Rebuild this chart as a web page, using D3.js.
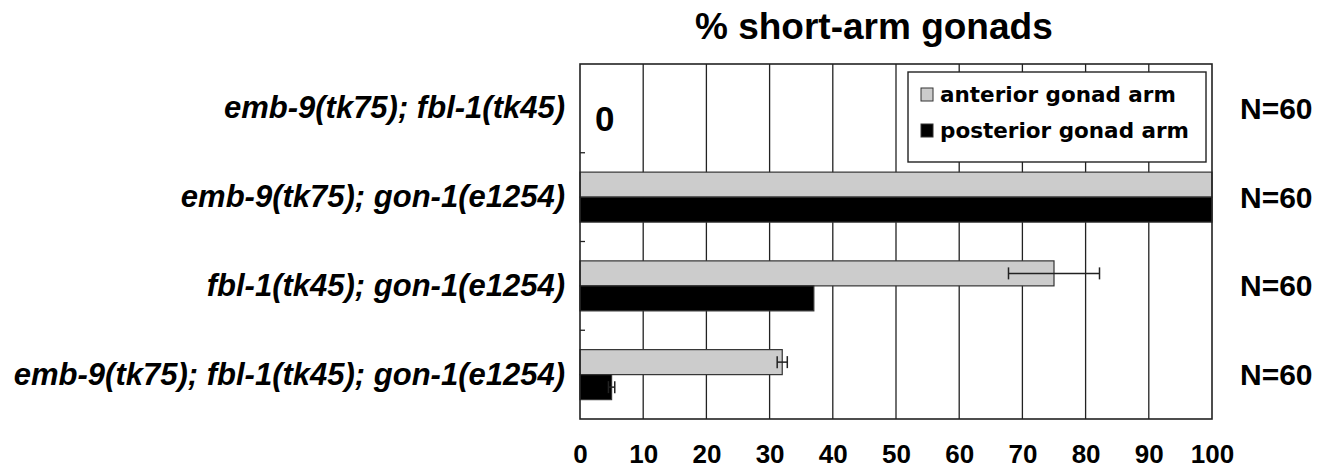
<!DOCTYPE html>
<html>
<head>
<meta charset="utf-8">
<script src="https://cdn.jsdelivr.net/npm/d3@7"></script>
<style>
  body { margin: 0; background: #fff; }
  svg { display: block; }
</style>
</head>
<body>
<div id="chart"></div>
<script>
'use strict'

// data
const genotypes = [
    'emb-9(tk75); fbl-1(tk45)',
    'emb-9(tk75); gon-1(e1254)',
    'fbl-1(tk45); gon-1(e1254)',
    'emb-9(tk75); fbl-1(tk45); gon-1(e1254)'
]
const seriesNames = ['anterior gonad arm', 'posterior gonad arm']
const anterior = [0, 100, 75, 32]
const posterior = [0, 100, 37, 5]
const anteriorErr = [null, null, 7.2, 0.8]
const posteriorErr = [null, null, null, 0.5]
const counts = ['N=60', 'N=60', 'N=60', 'N=60']
const xTicks = [0, 10, 20, 30, 40, 50, 60, 70, 80, 90, 100]
const title = '% short-arm gonads'

////////////////////////////////////
//////////// svg setup /////////////
////////////////////////////////////

const svgWidth = 1330
const svgHeight = 476
const margin = { left: 580, right: 118, top: 64, bottom: 57 }
const width = svgWidth - margin.left - margin.right
const height = svgHeight - margin.top - margin.bottom

const svg = d3.select('#chart')
    .append('svg')
    .attr('width', svgWidth)
    .attr('height', svgHeight)

const g = svg.append('g')
    .attr('transform', `translate(${margin.left},${margin.top})`)

const colors = ['#cccccc', '#000000']
const rows = genotypes.map((name, i) => ({
    name: name,
    values: [
        { series: 0, value: anterior[i], err: anteriorErr[i] },
        { series: 1, value: posterior[i], err: posteriorErr[i] }
    ],
    n: counts[i]
}))

////////////////////////////////////
//////////// scales ////////////////
////////////////////////////////////

const x = d3.scaleLinear().domain([0, 100]).range([0, width])
const y = d3.scaleBand().domain(genotypes).range([0, height]).padding(0)
const ySub = d3.scaleBand().domain([0, 1]).range([0, y.bandwidth()])
    .paddingInner(0).paddingOuter(0.775)

// grid lines
g.append('g')
    .selectAll('line')
    .data(xTicks.slice(1, -1))
    .join('line')
    .attr('x1', d => x(d)).attr('x2', d => x(d))
    .attr('y1', 0).attr('y2', height)
    .attr('stroke', '#222')
    .attr('stroke-width', 1.3)

// small category ticks on the inner side of the frame
g.append('g')
    .selectAll('line')
    .data(genotypes.slice(1))
    .join('line')
    .attr('x1', 0).attr('x2', 5)
    .attr('y1', d => y(d)).attr('y2', d => y(d))
    .attr('stroke', '#222')
    .attr('stroke-width', 1.3)

// bars
const groups = g.append('g')
    .selectAll('g')
    .data(rows)
    .join('g')
    .attr('transform', d => `translate(0,${y(d.name)})`)

groups.selectAll('rect')
    .data(d => d.values)
    .join('rect')
    .attr('x', 0)
    .attr('y', d => ySub(d.series))
    .attr('width', d => x(d.value))
    .attr('height', ySub.bandwidth())
    .attr('fill', d => colors[d.series])
    .attr('stroke', d => d.value > 0 ? '#333' : 'none')
    .attr('stroke-width', 1.2)

// error bars
const errs = groups.selectAll('.err')
    .data(d => d.values.filter(v => v.err != null))
    .join('g')
    .attr('class', 'err')
    .attr('transform', d => `translate(0,${ySub(d.series) + ySub.bandwidth() / 2})`)

errs.append('line')
    .attr('x1', d => x(d.value - d.err)).attr('x2', d => x(d.value + d.err))
    .attr('y1', 0).attr('y2', 0)
errs.append('line')
    .attr('x1', d => x(d.value - d.err)).attr('x2', d => x(d.value - d.err))
    .attr('y1', -6).attr('y2', 6)
errs.append('line')
    .attr('x1', d => x(d.value + d.err)).attr('x2', d => x(d.value + d.err))
    .attr('y1', -6).attr('y2', 6)
errs.selectAll('line')
    .attr('stroke', '#222')
    .attr('stroke-width', 1.5)

// "0" annotation for rows with no short arms
groups.filter(d => d.values.every(v => v.value === 0))
    .append('text')
    .attr('x', x(0) + 15)
    .attr('y', y.bandwidth() / 2 + 10)
    .attr('dy', '0.35em')
    .attr('font-family', 'Liberation Sans, Arial, sans-serif')
    .attr('font-weight', 'bold')
    .attr('font-size', 35)
    .text(d => d.values[0].value)

// frame
g.append('rect')
    .attr('x', 0).attr('y', 0)
    .attr('width', width).attr('height', height)
    .attr('fill', 'none')
    .attr('stroke', '#222')
    .attr('stroke-width', 1.6)

// x axis labels
const xAxis = g.append('g')
    .attr('transform', `translate(0,${height})`)
    .call(d3.axisBottom(x).tickValues(xTicks).tickSize(0).tickPadding(26))
xAxis.select('.domain').remove()
xAxis.selectAll('text')
    .attr('font-family', 'Liberation Sans, Arial, sans-serif')
    .attr('font-weight', 'bold')
    .attr('font-size', 26)
    .attr('fill', '#000')

// category labels
const yAxis = g.append('g')
    .call(d3.axisLeft(y).tickSize(0).tickPadding(15))
yAxis.select('.domain').remove()
yAxis.selectAll('text')
    .attr('font-family', 'Liberation Sans, Arial, sans-serif')
    .attr('font-weight', 'bold')
    .attr('font-style', 'italic')
    .attr('font-size', 31)
    .attr('fill', '#000')

// N labels
g.append('g')
    .selectAll('text')
    .data(rows)
    .join('text')
    .attr('x', width + 28)
    .attr('y', d => y(d.name) + y.bandwidth() / 2)
    .attr('dy', '0.35em')
    .attr('font-family', 'Liberation Sans, Arial, sans-serif')
    .attr('font-weight', 'bold')
    .attr('font-size', 30)
    .text(d => d.n)

// title
svg.append('text')
    .attr('x', margin.left + x(46.5))
    .attr('y', 39)
    .attr('text-anchor', 'middle')
    .attr('font-family', 'Liberation Sans, Arial, sans-serif')
    .attr('font-weight', 'bold')
    .attr('font-size', 37)
    .text(title)

////////////////////////////////////
//////////// legend ////////////////
////////////////////////////////////

const legend = g.append('g')
    .attr('transform', `translate(${x(51.9)},8)`)

legend.append('rect')
    .attr('width', 298).attr('height', 90)
    .attr('fill', '#fff')
    .attr('stroke', '#222')
    .attr('stroke-width', 1.4)

const items = legend.selectAll('.item')
    .data(seriesNames)
    .join('g')
    .attr('class', 'item')
    .attr('transform', (d, i) => `translate(13,${22 + i * 36})`)

items.append('rect')
    .attr('x', 0).attr('y', -6)
    .attr('width', 12).attr('height', 13)
    .attr('fill', (d, i) => colors[i])
    .attr('stroke', '#333')
    .attr('stroke-width', 1)

items.append('text')
    .attr('x', 19)
    .attr('y', 0)
    .attr('dy', '0.35em')
    .attr('font-family', 'DejaVu Sans, sans-serif')
    .attr('font-weight', 'bold')
    .attr('font-size', 21.5)
    .text(d => d)
</script>
</body>
</html>
